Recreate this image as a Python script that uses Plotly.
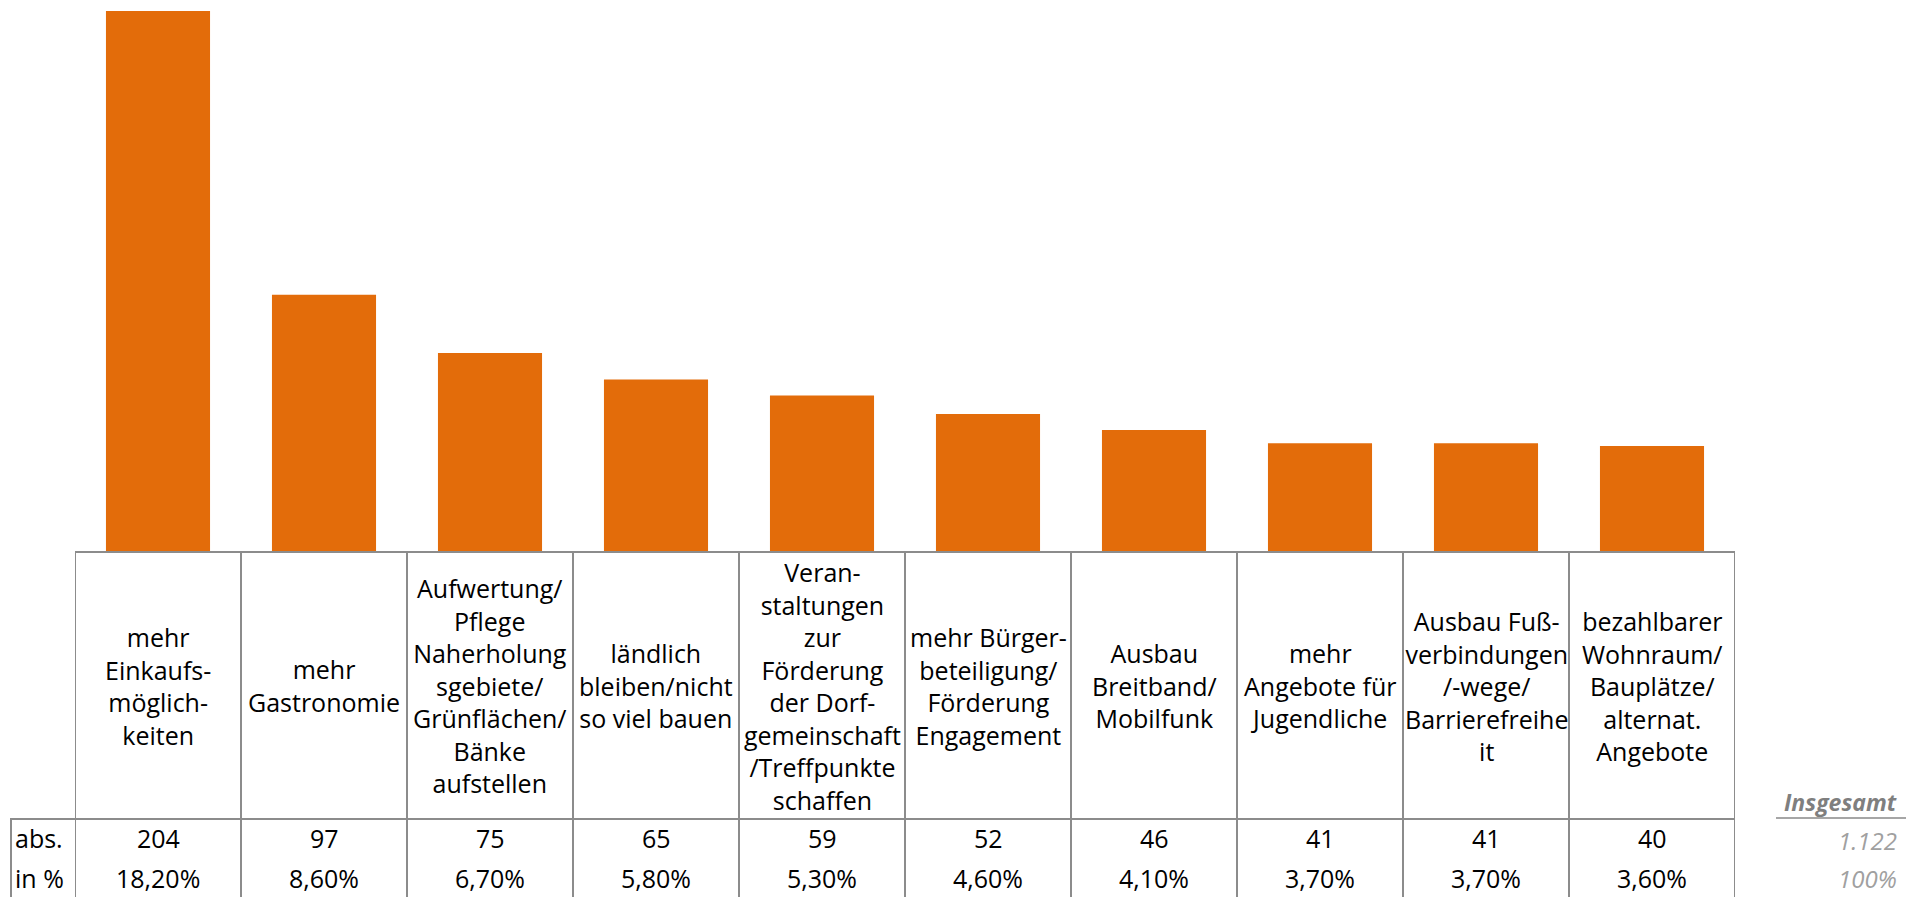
import plotly.graph_objects as go

categories = [
    "mehr<br>Einkaufs-<br>möglich-<br>keiten",
    "mehr<br>Gastronomie",
    "Aufwertung/<br>Pflege<br>Naherholung<br>sgebiete/<br>Grünflächen/<br>Bänke<br>aufstellen",
    "ländlich<br>bleiben/nicht<br>so viel bauen",
    "Veran-<br>staltungen<br>zur<br>Förderung<br>der Dorf-<br>gemeinschaft<br>/Treffpunkte<br>schaffen",
    "mehr Bürger-<br>beteiligung/<br>Förderung<br>Engagement",
    "Ausbau<br>Breitband/<br>Mobilfunk",
    "mehr<br>Angebote für<br>Jugendliche",
    "Ausbau Fuß-<br>verbindungen<br>/-wege/<br>Barrierefreihe<br>it",
    "bezahlbarer<br>Wohnraum/<br>Bauplätze/<br>alternat.<br>Angebote",
]
abs_values = [204, 97, 75, 65, 59, 52, 46, 41, 41, 40]
pct_labels = ["18,20%", "8,60%", "6,70%", "5,80%", "5,30%", "4,60%", "4,10%", "3,70%", "3,70%", "3,60%"]
row_labels = ["abs.", "in %"]
total_label = "Insgesamt"
total_abs = "1.122"
total_pct = "100%"

W, H = 1906, 897
FONT = "Open Sans"
GRID = "#8c8c8c"
BAR = "#E36C0A"
FS = 25

x_left, x_right = 75, 1735
y_base = 552
y_header_bottom = 819
y_abs = 838
y_pct = 878

def py(p):  # pixel y (from top) to paper y
    return 1 - p / H

def px(p):
    return p / W

n = len(categories)
idx = list(range(n))

fig = go.Figure()
fig.add_trace(go.Bar(
    x=idx, y=abs_values, marker=dict(color=BAR, line=dict(width=0)),
    width=0.627, hoverinfo="skip",
))

ymax = 204 * y_base / (y_base - 11)

fig.update_layout(
    width=W, height=H,
    margin=dict(l=0, r=0, t=0, b=0),
    paper_bgcolor="white", plot_bgcolor="white",
    showlegend=False,
    xaxis=dict(domain=[px(x_left), px(x_right)], range=[-0.5, n - 0.5],
               showgrid=False, zeroline=False, showticklabels=False, ticks="", fixedrange=True),
    yaxis=dict(domain=[py(y_base), 1], range=[0, ymax],
               showgrid=False, zeroline=False, showticklabels=False, ticks="", fixedrange=True),
    font=dict(family=FONT, color="black", size=FS),
)

shapes = []
line = dict(color=GRID, width=2)
shapes.append(dict(type="line", xref="x", yref="paper", x0=-0.5, x1=n - 0.5,
                   y0=py(y_base), y1=py(y_base), line=line))
shapes.append(dict(type="line", xref="paper", yref="paper", x0=px(10), x1=px(x_right),
                   y0=py(y_header_bottom), y1=py(y_header_bottom), line=line))
for i in range(n + 1):
    shapes.append(dict(type="line", xref="x", yref="paper", x0=i - 0.5, x1=i - 0.5,
                       y0=py(y_base), y1=0, line=line))
shapes.append(dict(type="line", xref="paper", yref="paper", x0=px(11), x1=px(11),
                   y0=py(y_header_bottom), y1=0, line=line))
shapes.append(dict(type="line", xref="paper", yref="paper", x0=px(1776), x1=1,
                   y0=py(818), y1=py(818), line=dict(color="#a6a6a6", width=2)))

annotations = []
for i, (c, a, p) in enumerate(zip(categories, abs_values, pct_labels)):
    annotations.append(dict(x=i, xref="x", y=py((y_base + y_header_bottom) / 2), yref="paper",
                            text=c, showarrow=False, xanchor="center", yanchor="middle",
                            align="center", font=dict(size=FS)))
    annotations.append(dict(x=i, xref="x", y=py(y_abs), yref="paper", text=str(a),
                            showarrow=False, xanchor="center", yanchor="middle", font=dict(size=FS)))
    annotations.append(dict(x=i, xref="x", y=py(y_pct), yref="paper", text=p,
                            showarrow=False, xanchor="center", yanchor="middle", font=dict(size=FS)))

annotations.append(dict(x=px(13), xref="paper", y=py(y_abs), yref="paper", text=row_labels[0],
                        showarrow=False, xanchor="left", yanchor="middle", font=dict(size=FS)))
annotations.append(dict(x=px(13), xref="paper", y=py(y_pct), yref="paper", text=row_labels[1],
                        showarrow=False, xanchor="left", yanchor="middle", font=dict(size=FS)))

annotations.append(dict(x=px(1899), xref="paper", y=py(802), yref="paper",
                        text="<b><i>" + total_label + "</i></b>", showarrow=False,
                        xanchor="right", yanchor="middle", font=dict(size=23, color="#7f7f7f")))
annotations.append(dict(x=px(1899), xref="paper", y=py(y_abs + 2), yref="paper",
                        text="<i>" + total_abs + "</i>", showarrow=False,
                        xanchor="right", yanchor="middle", font=dict(size=24, color="#a0a0a0")))
annotations.append(dict(x=px(1899), xref="paper", y=py(y_pct), yref="paper",
                        text="<i>" + total_pct + "</i>", showarrow=False,
                        xanchor="right", yanchor="middle", font=dict(size=24, color="#a0a0a0")))

fig.update_layout(shapes=shapes, annotations=annotations)
fig.write_html("out.html", config={"displayModeBar": False},
               post_script="document.body.style.margin='0';document.body.style.overflow='hidden';")
